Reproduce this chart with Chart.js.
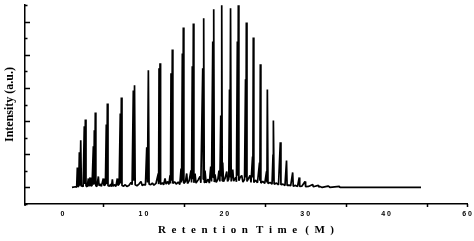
<!DOCTYPE html>
<html>
<head>
<meta charset="utf-8">
<script src="https://cdn.jsdelivr.net/npm/chart.js@4/dist/chart.umd.min.js"></script>
<style>
  body { margin: 0; background: #fff; }
  #wrap { width: 474px; height: 241px; }
</style>
</head>
<body>
<div id="wrap"><canvas id="gcChart" width="474" height="241"></canvas></div>
<script>
// chromatogram trace (retention time in minutes, intensity in arbitrary units)
const retTime = [
  1.17, 1.60, 1.75, 1.83, 1.90, 2.00, 2.08, 2.15, 2.25, 2.33, 2.45, 2.55, 2.69, 2.76, 2.82, 2.90,
  3.05, 3.19, 3.27, 3.40, 3.50, 3.65, 3.81, 3.87, 3.93, 3.99, 4.05, 4.12, 4.25, 4.43, 4.52, 4.70,
  4.80, 5.04, 5.12, 5.30, 5.41, 5.48, 5.54, 5.62, 5.80, 5.95, 6.05, 6.16, 6.25, 6.45, 6.60, 6.77,
  6.85, 7.00, 7.14, 7.20, 7.27, 7.35, 7.55, 7.75, 7.95, 8.20, 8.47, 8.60, 8.75, 8.82, 8.90, 8.98,
  9.20, 9.45, 9.70, 9.85, 10.05, 10.25, 10.41, 10.50, 10.61, 10.70, 10.90, 11.10, 11.30, 11.55,
  11.84, 11.88, 11.93, 11.99, 12.05, 12.12, 12.35, 12.50, 12.67, 12.80, 13.00, 13.15, 13.29, 13.35,
  13.41, 13.49, 13.57, 13.64, 13.85, 14.05, 14.30, 14.50, 14.65, 14.72, 14.81, 14.87, 14.93, 15.00,
  15.20, 15.35, 15.45, 15.65, 15.88, 15.95, 16.04, 16.10, 16.17, 16.24, 16.38, 16.50, 16.75, 17.00,
  17.10, 17.33, 17.39, 17.45, 17.52, 17.61, 17.75, 18.00, 18.15, 18.32, 18.42, 18.57, 18.63, 18.69,
  18.76, 18.85, 19.00, 19.20, 19.34, 19.45, 19.56, 19.62, 19.68, 19.74, 19.80, 19.90, 20.10, 20.30,
  20.40, 20.55, 20.64, 20.70, 20.77, 20.85, 21.04, 21.15, 21.30, 21.41, 21.50, 21.61, 21.67, 21.73,
  21.80, 21.95, 22.15, 22.30, 22.50, 22.62, 22.67, 22.72, 22.80, 22.95, 23.18, 23.30, 23.49, 23.53,
  23.58, 23.65, 23.85, 24.10, 24.35, 24.40, 24.45, 24.52, 24.75, 25.00, 25.22, 25.27, 25.32, 25.40,
  25.65, 25.90, 26.02, 26.05, 26.08, 26.15, 26.45, 26.70, 26.92, 27.00, 27.25, 27.50, 27.69, 27.76,
  28.00, 28.20, 28.45, 28.52, 28.80, 29.05, 29.26, 29.32, 29.60, 29.98, 30.05, 30.40, 30.93, 31.00,
  31.62, 31.70, 31.83, 32.10, 32.82, 32.94, 33.05, 34.22, 34.30, 44.31
];
const intensity = [
  0.00, 0.02, 0.01, 0.60, 0.02, 0.04, 1.06, 0.05, 1.42, 0.03, 0.06, 0.02, 1.84, 0.10, 2.05, 0.05,
  0.02, 0.27, 0.03, 0.30, 0.04, 0.06, 1.24, 0.08, 1.72, 0.10, 2.26, 0.05, 0.03, 0.33, 0.05, 0.10,
  0.03, 0.27, 0.06, 0.08, 1.90, 0.10, 2.53, 0.05, 0.04, 0.10, 0.02, 0.24, 0.04, 0.08, 0.03, 0.27,
  0.06, 0.10, 2.23, 0.12, 2.71, 0.06, 0.04, 0.08, 0.03, 0.06, 0.15, 0.08, 2.92, 0.20, 3.08, 0.08,
  0.05, 0.10, 0.18, 0.06, 0.09, 0.07, 1.21, 0.15, 3.53, 0.10, 0.08, 0.13, 0.07, 0.12,
  0.42, 0.10, 3.59, 0.15, 3.74, 0.09, 0.14, 0.08, 0.27, 0.10, 0.18, 0.09, 0.36, 0.12,
  3.44, 0.20, 4.16, 0.12, 0.17, 0.10, 0.16, 0.09, 0.57, 0.15, 4.04, 0.20, 4.82, 0.12,
  0.18, 0.42, 0.12, 0.20, 0.51, 0.15, 3.65, 0.25, 4.94, 0.14, 0.42, 0.13, 0.22, 0.33,
  0.14, 3.59, 0.25, 5.10, 0.15, 0.51, 0.14, 0.25, 0.13, 0.63, 0.18, 4.40, 0.30, 5.37,
  0.16, 0.39, 0.15, 0.24, 0.51, 0.18, 2.17, 0.35, 5.49, 0.20, 0.75, 0.17, 0.28, 0.48,
  0.18, 0.25, 2.95, 0.30, 5.40, 0.18, 0.54, 0.19, 0.25, 0.30, 0.17, 4.40, 0.35, 5.49,
  0.20, 0.30, 0.36, 0.16, 0.24, 3.26, 0.30, 4.97, 0.18, 0.25, 0.36, 0.15, 0.93, 0.30,
  4.52, 0.15, 0.22, 0.14, 0.75, 0.20, 3.71, 0.13, 0.18, 0.12, 0.48, 0.15, 2.95, 0.12,
  0.15, 0.10, 0.99, 0.20, 2.02, 0.10, 0.13, 0.08, 1.36, 0.08, 0.10, 0.06, 0.81, 0.06,
  0.07, 0.05, 0.45, 0.04, 0.06, 0.03, 0.30, 0.03, 0.04, 0.18, 0.02, 0.03, 0.09, 0.02,
  0.06, 0.01, 0.03, 0.00, 0.04, 0.03, 0.00, 0.03, 0.00, 0.00
];

// axis labels as printed on the original
const xTickVals = [0, 10, 20, 30, 40, 50];
const xTickLabels = ['0', '1 0', '2 0', '3 0', '4 0', '6 0'];
const xMarkVals = [5, 15, 25, 35, 45, 50];
const yMarkVals = [-0.5, 0, 0.5, 1, 1.5, 2, 2.5, 3, 3.5, 4, 4.5, 5, 5.5];

// small tick marks: y ticks point into the plot, x ticks hang below the axis
const tickMarks = {
  id: 'tickMarks',
  afterDraw(chart) {
    const { ctx, scales: { x, y } } = chart;
    ctx.save();
    ctx.strokeStyle = '#000';
    ctx.lineWidth = 1.5;
    ctx.beginPath();
    yMarkVals.forEach(v => {
      const py = Math.round(y.getPixelForValue(v)) + 0.5;
      const len = Number.isInteger(v) ? 5 : 2.5;
      ctx.moveTo(x.left, py);
      ctx.lineTo(x.left + len, py);
    });
    xMarkVals.forEach(v => {
      const px = Math.round(x.getPixelForValue(v)) + 0.5;
      ctx.moveTo(px, y.bottom);
      ctx.lineTo(px, y.bottom + 3);
    });
    ctx.moveTo(x.left, y.bottom);
    ctx.lineTo(x.left, y.bottom + 2);
    ctx.stroke();
    ctx.restore();
  }
};

new Chart(document.getElementById('gcChart'), {
  type: 'line',
  data: {
    datasets: [{
      data: retTime.map((t, i) => ({ x: t, y: intensity[i] })),
      borderColor: '#000',
      borderWidth: 1.7,
      borderJoinStyle: 'bevel',
      pointRadius: 0,
      tension: 0,
      fill: false
    }]
  },
  plugins: [tickMarks],
  options: {
    responsive: false,
    animation: false,
    devicePixelRatio: 1,
    layout: { padding: { top: 5, right: 7, left: 0, bottom: 0 } },
    plugins: { legend: { display: false }, tooltip: { enabled: false } },
    scales: {
      x: {
        type: 'linear',
        min: -4.64,
        max: 50,
        afterFit: s => { s.height = 37; s.paddingLeft = 0; s.paddingRight = 0; },
        afterBuildTicks: s => { s.ticks = xTickVals.map(v => ({ value: v })); },
        grid: { display: false, drawTicks: false },
        border: { display: true, color: '#000', width: 1.5 },
        ticks: {
          autoSkip: false,
          maxRotation: 0,
          padding: 6,
          color: '#000',
          font: { family: '"Liberation Sans"', size: 7, weight: 'bold' },
          callback: (v, i) => xTickLabels[i]
        },
        title: {
          display: true,
          text: 'R  e  t  e  n  t  i  o  n   T  i  m  e   (  M  )',
          color: '#000',
          font: { family: '"Liberation Serif"', size: 11, weight: 'bold' },
          padding: { top: 0, bottom: 4 }
        }
      },
      y: {
        min: -0.5,
        max: 5.5,
        afterFit: s => { s.width = 25; },
        grid: { display: false, drawTicks: false },
        border: { display: true, color: '#000', width: 1.5 },
        ticks: { display: false },
        title: {
          display: true,
          text: 'Intensity (a.u.)',
          color: '#000',
          font: { family: '"Liberation Serif"', size: 12, weight: 'bold' },
          padding: { top: 3, bottom: 0 }
        }
      }
    }
  }
});
</script>
</body>
</html>
